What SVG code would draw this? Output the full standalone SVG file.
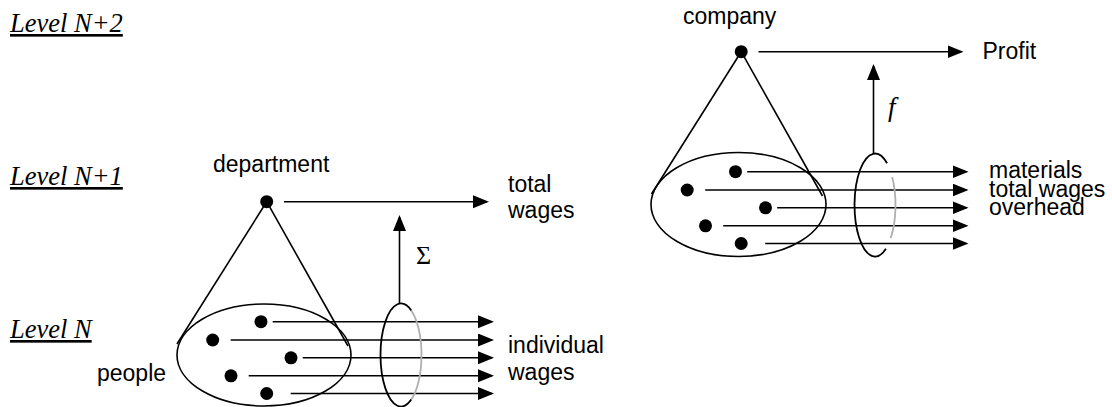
<svg xmlns="http://www.w3.org/2000/svg" width="1112" height="407" viewBox="0 0 1112 407">
<style>
.sans{font-family:"Liberation Sans",Arial,sans-serif;font-size:23px;fill:#000}
.lvl{font-family:"Liberation Serif","Times New Roman",serif;font-style:italic;font-size:26.5px;fill:#000}
.math{font-family:"Liberation Serif","Times New Roman",serif;fill:#000}
.ln{stroke:#000;stroke-width:1.6;fill:none}
.arr{stroke:#000;stroke-width:1.6;fill:none;marker-end:url(#ah)}
.dot{fill:#000}
.ring{stroke:#000;stroke-width:1.8;fill:none}
.ringb{stroke:#b0b0b0;stroke-width:1.8;fill:none}
</style>
<defs>
<marker id="ah" markerUnits="userSpaceOnUse" markerWidth="16" markerHeight="14" refX="14" refY="6.5" orient="auto">
<path d="M0,0 L16,6.5 L0,13 Z" fill="#000"/>
</marker>
</defs>
<rect width="1112" height="407" fill="#fff"/>

<g id="levels">
<text class="lvl" x="10" y="32" text-decoration="underline">Level N+2</text>
<text class="lvl" x="10" y="185" text-decoration="underline">Level N+1</text>
<text class="lvl" x="10" y="338" text-decoration="underline">Level N</text>
</g>

<g id="connectors">
<!-- left cone -->
<line class="ln" x1="266.7" y1="201.7" x2="177" y2="344"/>
<line class="ln" x1="266.7" y1="201.7" x2="348" y2="346"/>
<line class="arr" x1="284" y1="201.7" x2="487" y2="201.7"/>
<line class="arr" x1="272.7" y1="321.7" x2="492" y2="321.7"/>
<line class="arr" x1="230.7" y1="340" x2="492" y2="340"/>
<line class="arr" x1="302.7" y1="357.8" x2="492" y2="357.8"/>
<line class="arr" x1="248.7" y1="375.8" x2="492" y2="375.8"/>
<line class="arr" x1="290.7" y1="393.5" x2="492" y2="393.5"/>
<line class="arr" x1="399.5" y1="303.5" x2="399.5" y2="217"/>
<path class="ringb" d="M411.25,310.4 A20.5,51.5 0 0 1 411.25,399.6"/>
<path class="ring" d="M411.25,310.4 A20.5,51.5 0 1 0 411.25,399.6"/>
<!-- right cone -->
<line class="ln" x1="741.2" y1="51.7" x2="651.5" y2="194"/>
<line class="ln" x1="741.2" y1="51.7" x2="822.5" y2="196"/>
<line class="arr" x1="758.5" y1="51.7" x2="961.5" y2="51.7"/>
<line class="arr" x1="747.2" y1="171.7" x2="966.5" y2="171.7"/>
<line class="arr" x1="705.2" y1="190" x2="966.5" y2="190"/>
<line class="arr" x1="777.2" y1="207.8" x2="966.5" y2="207.8"/>
<line class="arr" x1="723.2" y1="225.8" x2="966.5" y2="225.8"/>
<line class="arr" x1="765.2" y1="243.5" x2="966.5" y2="243.5"/>
<line class="arr" x1="873.5" y1="153.5" x2="873.5" y2="66"/>
<path class="ringb" d="M892.2,176.9 A20.5,51.5 0 0 1 890.7,238.1"/>
<path class="ring" d="M887.05,163.3 A20.5,51.5 0 1 0 885.9,248.7"/>
<text class="math" x="416" y="264" font-size="26">Σ</text>
<text class="math" x="888" y="116" font-size="27" font-style="italic">f</text>
</g>

<g id="department">
<circle class="dot" cx="266.7" cy="201.7" r="6.5"/>
<text class="sans" x="213" y="172">department</text>
</g>

<g id="people">
<ellipse class="ln" cx="264" cy="355" rx="87" ry="51"/>
<circle class="dot" cx="261" cy="321.7" r="6.5"/>
<circle class="dot" cx="212.7" cy="340" r="6.5"/>
<circle class="dot" cx="291" cy="357.8" r="6.5"/>
<circle class="dot" cx="231" cy="375.8" r="6.5"/>
<circle class="dot" cx="266.7" cy="393.5" r="6.5"/>
<text class="sans" x="97" y="381">people</text>
</g>

<g id="total-wages">
<text class="sans" x="508" y="191.5">total</text>
<text class="sans" x="508" y="218">wages</text>
</g>

<g id="individual-wages">
<text class="sans" x="508" y="353">individual</text>
<text class="sans" x="508" y="380">wages</text>
</g>

<g id="company">
<circle class="dot" cx="741.2" cy="51.7" r="6.5"/>
<text class="sans" x="683" y="24">company</text>
</g>

<g id="company-parts">
<ellipse class="ln" cx="738.5" cy="204.5" rx="87.5" ry="52"/>
<circle class="dot" cx="735.5" cy="171.7" r="6.5"/>
<circle class="dot" cx="687.2" cy="190" r="6.5"/>
<circle class="dot" cx="765.5" cy="207.8" r="6.5"/>
<circle class="dot" cx="705.5" cy="225.8" r="6.5"/>
<circle class="dot" cx="741.2" cy="243.5" r="6.5"/>
</g>

<g id="profit">
<text class="sans" x="982.5" y="59">Profit</text>
</g>

<g id="inputs">
<text class="sans" x="989" y="178">materials</text>
<text class="sans" x="989" y="196.5">total wages</text>
<text class="sans" x="989" y="215">overhead</text>
</g>
</svg>
